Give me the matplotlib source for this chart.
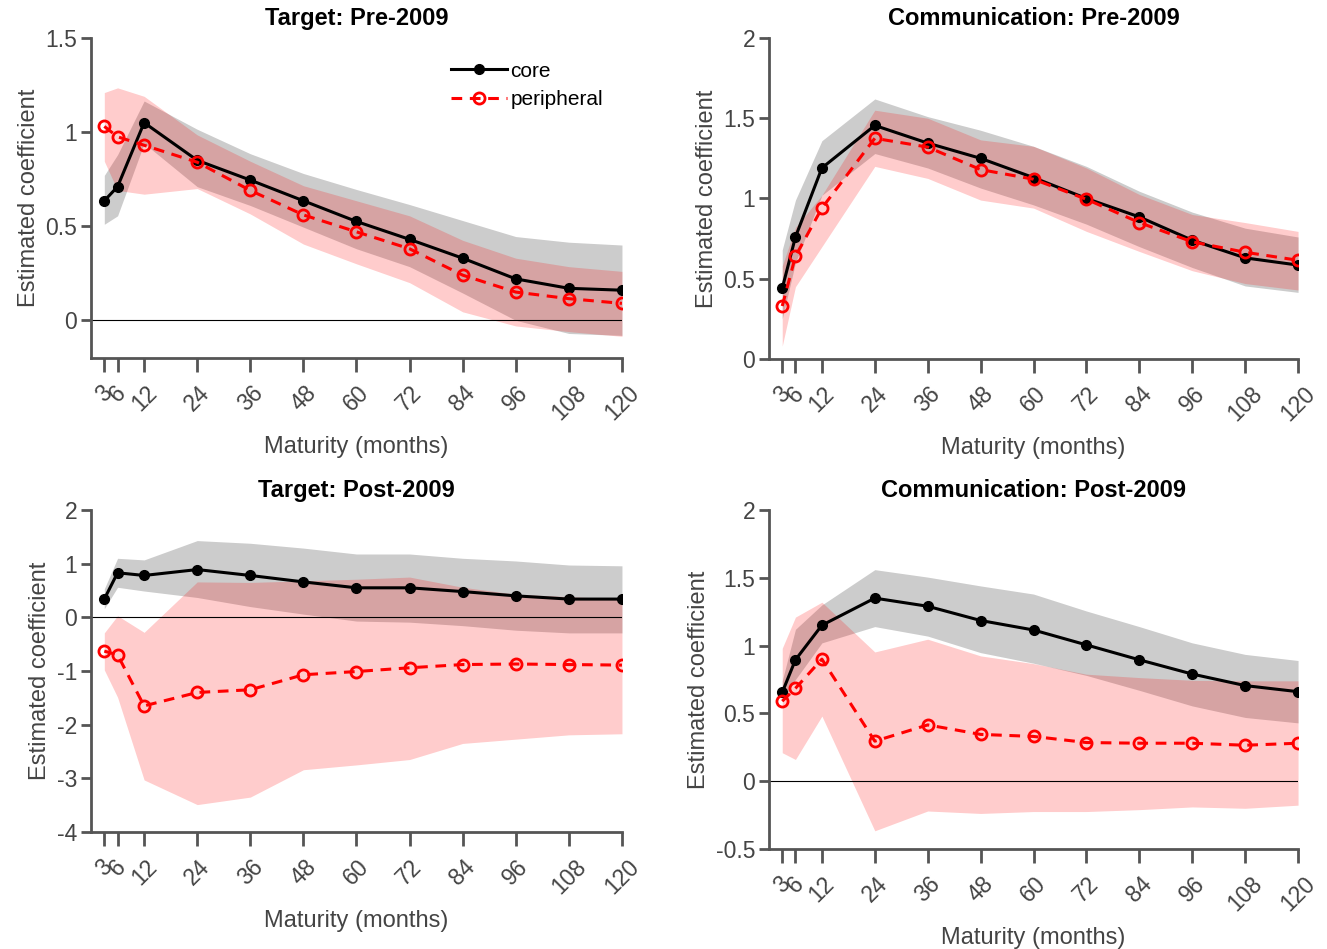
import numpy as np
import matplotlib.pyplot as plt

plt.rcParams['font.family'] = ['Liberation Sans', 'DejaVu Sans']

maturity = [3, 6, 12, 24, 36, 48, 60, 72, 84, 96, 108, 120]
tick_labels = [str(m) for m in maturity]

# Target: Pre-2009
tp_core = [0.635, 0.71, 1.05, 0.85, 0.745, 0.635, 0.525, 0.43, 0.33, 0.22, 0.17, 0.16]
tp_core_hi = [0.77, 0.88, 1.165, 1.015, 0.885, 0.78, 0.695, 0.615, 0.53, 0.445, 0.415, 0.40]
tp_core_lo = [0.51, 0.555, 0.94, 0.71, 0.61, 0.495, 0.38, 0.285, 0.145, 0.0, -0.07, -0.08]
tp_peri = [1.03, 0.975, 0.93, 0.84, 0.69, 0.56, 0.47, 0.38, 0.24, 0.15, 0.115, 0.09]
tp_peri_hi = [1.21, 1.235, 1.19, 0.985, 0.845, 0.715, 0.635, 0.555, 0.425, 0.33, 0.285, 0.26]
tp_peri_lo = [0.845, 0.69, 0.67, 0.70, 0.565, 0.405, 0.30, 0.20, 0.045, -0.03, -0.06, -0.085]

# Communication: Pre-2009
cp_core = [0.44, 0.76, 1.19, 1.455, 1.345, 1.25, 1.13, 1.0, 0.885, 0.74, 0.63, 0.585]
cp_core_hi = [0.68, 0.99, 1.36, 1.62, 1.51, 1.425, 1.325, 1.20, 1.045, 0.915, 0.815, 0.76]
cp_core_lo = [0.25, 0.60, 1.02, 1.28, 1.19, 1.065, 0.96, 0.84, 0.70, 0.57, 0.455, 0.415]
cp_peri = [0.33, 0.64, 0.94, 1.375, 1.32, 1.18, 1.12, 0.995, 0.85, 0.73, 0.665, 0.615]
cp_peri_hi = [0.58, 0.82, 1.02, 1.55, 1.50, 1.365, 1.325, 1.19, 1.025, 0.90, 0.85, 0.795]
cp_peri_lo = [0.08, 0.45, 0.70, 1.20, 1.125, 0.99, 0.94, 0.795, 0.67, 0.55, 0.47, 0.43]

# Target: Post-2009
tq_core = [0.34, 0.83, 0.78, 0.89, 0.78, 0.66, 0.55, 0.55, 0.48, 0.40, 0.34, 0.34]
tq_core_hi = [0.53, 1.10, 1.07, 1.43, 1.38, 1.29, 1.18, 1.18, 1.10, 1.05, 0.975, 0.96]
tq_core_lo = [0.16, 0.56, 0.49, 0.37, 0.20, 0.06, -0.07, -0.09, -0.155, -0.24, -0.29, -0.29]
tq_peri = [-0.63, -0.70, -1.65, -1.40, -1.35, -1.07, -1.01, -0.94, -0.88, -0.87, -0.88, -0.89]
tq_peri_hi = [-0.29, 0.03, -0.28, 0.66, 0.65, 0.68, 0.71, 0.75, 0.56, 0.43, 0.385, 0.34]
tq_peri_lo = [-0.98, -1.49, -3.03, -3.49, -3.35, -2.84, -2.75, -2.65, -2.35, -2.27, -2.19, -2.17]

# Communication: Post-2009
cq_core = [0.655, 0.895, 1.15, 1.35, 1.29, 1.185, 1.115, 1.005, 0.895, 0.79, 0.705, 0.66]
cq_core_hi = [0.74, 1.12, 1.30, 1.56, 1.505, 1.44, 1.38, 1.255, 1.14, 1.02, 0.935, 0.89]
cq_core_lo = [0.59, 0.75, 1.02, 1.14, 1.07, 0.948, 0.87, 0.78, 0.67, 0.555, 0.47, 0.43]
cq_peri = [0.59, 0.685, 0.90, 0.295, 0.415, 0.345, 0.33, 0.285, 0.28, 0.28, 0.265, 0.28]
cq_peri_hi = [0.98, 1.21, 1.32, 0.953, 1.047, 0.924, 0.867, 0.789, 0.764, 0.744, 0.74, 0.74]
cq_peri_lo = [0.21, 0.16, 0.48, -0.366, -0.22, -0.238, -0.224, -0.224, -0.21, -0.19, -0.20, -0.177]

axis_col = '#555555'
text_col = '#444444'

fig = plt.figure(figsize=(13.27, 9.49), dpi=100)

panels = [
    ("Target: Pre-2009", [0.0686, 0.6228, 0.4001, 0.3372], (-0.2, 1.5), [0, 0.5, 1, 1.5],
     tp_core, tp_core_lo, tp_core_hi, tp_peri, tp_peri_lo, tp_peri_hi),
    ("Communication: Pre-2009", [0.5795, 0.6217, 0.3987, 0.3383], (0, 2), [0, 0.5, 1, 1.5, 2],
     cp_core, cp_core_lo, cp_core_hi, cp_peri, cp_peri_lo, cp_peri_hi),
    ("Target: Post-2009", [0.0686, 0.1233, 0.4001, 0.3393], (-4, 2), [-4, -3, -2, -1, 0, 1, 2],
     tq_core, tq_core_lo, tq_core_hi, tq_peri, tq_peri_lo, tq_peri_hi),
    ("Communication: Post-2009", [0.5795, 0.1054, 0.3987, 0.3572], (-0.5, 2), [-0.5, 0, 0.5, 1, 1.5, 2],
     cq_core, cq_core_lo, cq_core_hi, cq_peri, cq_peri_lo, cq_peri_hi),
]

for i, (title, rect, ylim, yticks, core, core_lo, core_hi, peri, peri_lo, peri_hi) in enumerate(panels):
    ax = fig.add_axes(rect)
    ax.fill_between(maturity, core_lo, core_hi, color='black', alpha=0.2, linewidth=0)
    ax.fill_between(maturity, peri_lo, peri_hi, color='red', alpha=0.2, linewidth=0)
    ax.axhline(0, color='black', linewidth=0.8)
    ax.plot(maturity, core, color='black', linewidth=2.2, marker='o', markersize=7,
            label='core')
    ax.plot(maturity, peri, color='red', linewidth=2.2, linestyle=(0, (3.5, 2.5)), marker='o',
            markersize=8, markerfacecolor='none', markeredgewidth=2, label='peripheral')

    ax.set_xlim(0, 120)
    ax.set_ylim(*ylim)
    ax.set_xticks(maturity)
    ax.set_xticklabels(tick_labels, rotation=45, ha='center')
    ax.set_yticks(yticks)
    ax.set_yticklabels([('%g' % t) for t in yticks])

    for s in ['top', 'right']:
        ax.spines[s].set_visible(False)
    for s in ['left', 'bottom']:
        ax.spines[s].set_color(axis_col)
        ax.spines[s].set_linewidth(2)
    ax.tick_params(axis='x', direction='out', length=10, width=2, color=axis_col,
                   labelcolor=text_col, labelsize=16.5, pad=7)
    ax.tick_params(axis='y', direction='out', length=7, width=2, color=axis_col,
                   labelcolor=text_col, labelsize=16.5, pad=3)

    ax.set_title(title, fontsize=17, fontweight='bold', pad=9)
    ax.set_xlabel("Maturity (months)", fontsize=17, color=text_col, labelpad=8)
    ax.set_ylabel("Estimated coefficient", fontsize=17, color=text_col, labelpad=4)

    if i == 0:
        ax.legend(loc='upper right', bbox_to_anchor=(1.0, 0.985), frameon=False,
                  fontsize=15, handlelength=2.7, handletextpad=0.15, labelspacing=0.45)

fig.savefig('out.png', dpi=100)
